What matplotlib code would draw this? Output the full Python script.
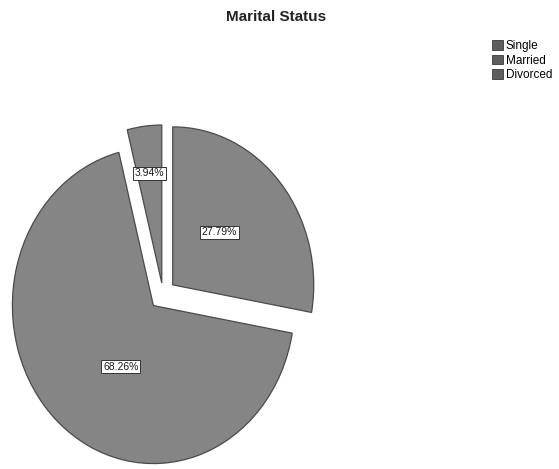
import numpy as np
import matplotlib
matplotlib.use("Agg")
import matplotlib.pyplot as plt
from matplotlib.patches import Patch

categories = ["Single", "Married", "Divorced"]
percentages = [27.79, 68.26, 3.94]
explode = [0.09, 0.10, 0.07]
# (angle in degrees, distance from the wedge tip) for each percentage box
label_pos = [(45, 0.47), (239, 0.45), (97, 0.70)]

plt.rcParams["font.family"] = ["Liberation Sans", "DejaVu Sans"]

W, H = 559, 469
fig = plt.figure(figsize=(W / 100, H / 100), dpi=100)

# pie axes: stretched so the pie comes out as a slightly tall ellipse
ax_w, ax_h = 340, 369
cx, cy = 163, 294          # pie centre, pixels from the top-left
rx, ry = 141, 158          # radii in pixels
ax = fig.add_axes([0, 0, ax_w / W, ax_h / H])

total = sum(percentages)
wedges, texts, autotexts = ax.pie(
    percentages,
    explode=explode,
    startangle=90,
    counterclock=False,
    colors=["#858585"] * 3,
    wedgeprops=dict(edgecolor="#4a4a4a", linewidth=0.9),
    autopct=lambda p: "%.2f%%" % (p * total / 100),
    pctdistance=0.5,
    textprops=dict(fontsize=7.5, color="#1a1a1a"),
)
ax.set_aspect("auto")
top = H - ax_h
ax.set_xlim(-cx / rx, (ax_w - cx) / rx)
ax.set_ylim(-(H - cy) / ry, (cy - top) / ry)
ax.axis("off")

for w, t, e, (ang, d) in zip(wedges, autotexts, explode, label_pos):
    mid = np.deg2rad((w.theta1 + w.theta2) / 2)
    tip_x, tip_y = e * np.cos(mid), e * np.sin(mid)
    a = np.deg2rad(ang)
    t.set_position((tip_x + d * np.cos(a), tip_y + d * np.sin(a)))
    t.set_bbox(dict(boxstyle="square,pad=0.15", facecolor="white",
                    edgecolor="#333333", linewidth=0.7))

fig.text(276 / W, 1 - 17 / H, "Marital Status", ha="center", va="center",
         fontsize=11, fontweight="bold", color="#222222")

handles = [Patch(facecolor="#5e5e5e", edgecolor="#3a3a3a", linewidth=0.6)
           for _ in categories]
fig.legend(handles, categories, loc="upper left",
           bbox_to_anchor=(484 / W, 1 - 32 / H), frameon=False,
           fontsize=8.5, handlelength=0.9, handleheight=0.9,
           handletextpad=0.25, labelspacing=0.2, borderpad=0.2)

fig.savefig("out.png", dpi=100, facecolor="white")
